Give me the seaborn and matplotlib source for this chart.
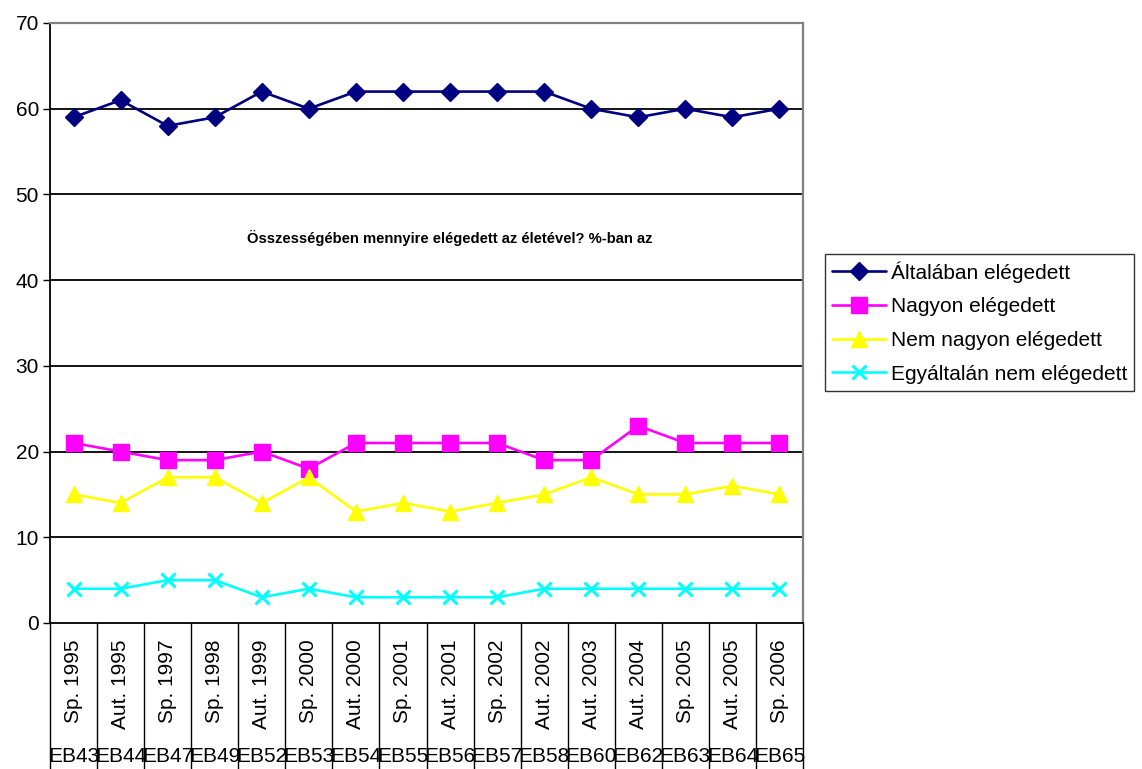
import matplotlib
matplotlib.use("Agg")
import matplotlib.pyplot as plt
import matplotlib.transforms as mtransforms
import numpy as np
import pandas as pd
import seaborn as sns

periods = ["Sp. 1995", "Aut. 1995", "Sp. 1997", "Sp. 1998", "Aut. 1999", "Sp. 2000",
           "Aut. 2000", "Sp. 2001", "Aut. 2001", "Sp. 2002", "Aut. 2002", "Aut. 2003",
           "Aut. 2004", "Sp. 2005", "Aut. 2005", "Sp. 2006"]
waves = ["EB43", "EB44", "EB47", "EB49", "EB52", "EB53", "EB54", "EB55",
         "EB56", "EB57", "EB58", "EB60", "EB62", "EB63", "EB64", "EB65"]

altalaban = [59, 61, 58, 59, 62, 60, 62, 62, 62, 62, 62, 60, 59, 60, 59, 60]
nagyon = [21, 20, 19, 19, 20, 18, 21, 21, 21, 21, 19, 19, 23, 21, 21, 21]
nem_nagyon = [15, 14, 17, 17, 14, 17, 13, 14, 13, 14, 15, 17, 15, 15, 16, 15]
egyaltalan = [4, 4, 5, 5, 3, 4, 3, 3, 3, 3, 4, 4, 4, 4, 4, 4]

series_names = ["Általában elégedett", "Nagyon elégedett",
                "Nem nagyon elégedett", "Egyáltalán nem elégedett"]
series_values = [altalaban, nagyon, nem_nagyon, egyaltalan]
colors = ["#000080", "#FF00FF", "#FFFF00", "#00FFFF"]
markers = ["D", "s", "^", "x"]
msizes = [9.5, 11, 11.5, 10]

title = "Összességében mennyire elégedett az életével? %-ban az"

df = pd.concat(
    [pd.DataFrame({"pos": np.arange(len(periods)), "value": vals, "series": name})
     for name, vals in zip(series_names, series_values)],
    ignore_index=True,
)

sns.set_style("white")
plt.rcParams["font.family"] = ["Liberation Sans", "DejaVu Sans"]
plt.rcParams["text.color"] = "black"
plt.rcParams["xtick.color"] = "black"
plt.rcParams["ytick.color"] = "black"
plt.rcParams["axes.labelcolor"] = "black"
fs = 15

fig = plt.figure(figsize=(11.42, 7.69), dpi=100)
ax = fig.add_axes([50 / 1142, 1 - 623 / 769, 753 / 1142, 600 / 769])

for name, color, mk, ms in zip(series_names, colors, markers, msizes):
    sub = df[df["series"] == name]
    sns.lineplot(data=sub, x="pos", y="value", ax=ax, color=color, marker=mk,
                 markersize=ms, markeredgecolor=color, markerfacecolor=color,
                 markeredgewidth=2.2 if mk == "x" else 1, linewidth=1.9,
                 label=name, legend=False, zorder=3)

ax.set_xlim(-0.5, len(periods) - 0.5)
ax.set_ylim(0, 70)
ax.set_yticks(range(0, 71, 10))
ax.tick_params(axis="y", which="both", left=True, length=5, width=1, labelsize=fs,
               pad=3, color="black", labelcolor="black")
ax.set_xticks(np.arange(len(periods)))
ax.set_xticklabels(periods, rotation=90, fontsize=fs)
ax.tick_params(axis="x", length=0, pad=12, labelcolor="black")
ax.set_xlabel("")
ax.set_ylabel("")
for y in range(10, 70, 10):
    ax.axhline(y, color="black", linewidth=1.3, zorder=1)

ax.spines["left"].set_color("black")
ax.spines["bottom"].set_color("black")
ax.spines["left"].set_linewidth(1.3)
ax.spines["bottom"].set_linewidth(1.3)
for s in ["top", "right"]:
    ax.spines[s].set_color("#808080")
    ax.spines[s].set_linewidth(1.6)

# category separators and second-level labels
trans = mtransforms.blended_transform_factory(ax.transData, ax.transAxes)
bounds = np.arange(len(periods) + 1) - 0.5
ax.vlines(bounds, -0.25, 0, transform=trans, colors="black", linewidth=1, clip_on=False)
for i, w in enumerate(waves):
    ax.text(i, -0.222, w, transform=trans, ha="center", va="center", fontsize=fs,
            color="black")

ax.text(0.531, 0.642, title, transform=ax.transAxes, ha="center", va="center",
        fontsize=10.6, fontweight="bold", color="black")

handles, labels = ax.get_legend_handles_labels()
leg = fig.legend(handles, labels, loc="upper left", bbox_to_anchor=(825 / 1142, 1 - 254 / 769),
                 fontsize=fs, frameon=True, fancybox=False, edgecolor="black",
                 handlelength=2.6, handletextpad=0.2, labelspacing=0.7, borderpad=0.35,
                 borderaxespad=0, labelcolor="black")
leg.get_frame().set_linewidth(1)

fig.savefig("out.png", dpi=100)
